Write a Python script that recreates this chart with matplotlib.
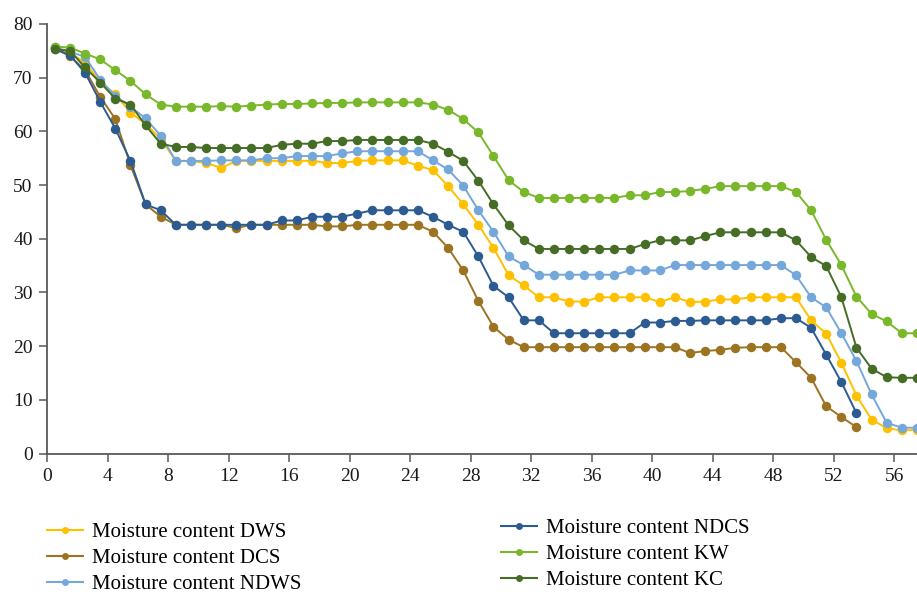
import numpy as np
import matplotlib
matplotlib.use("Agg")
import matplotlib.pyplot as plt
from matplotlib.lines import Line2D

plt.rcParams['font.family'] = ['Liberation Serif', 'DejaVu Serif']

time = np.arange(0.5, 58.0, 1.0)

dws = [75.7, 74.6, 72.8, 69.2, 66.9, 63.5, 61.4, 58.6, 54.5, 54.5, 54.1, 53.2,
       54.5, 54.5, 54.5, 54.5, 54.5, 54.5, 54.1, 54.1, 54.5, 54.6, 54.6, 54.6,
       53.6, 52.8, 49.8, 46.4, 42.6, 38.3, 33.2, 31.3, 29.1, 29.1, 28.3, 28.3,
       29.1, 29.1, 29.1, 29.1, 28.2, 29.1, 28.2, 28.3, 28.7, 28.7, 29.1, 29.1,
       29.1, 29.1, 24.8, 22.3, 16.9, 10.8, 6.3, 4.7, 4.3, 4.4]
dcs = [75.5, 74.0, 71.4, 66.4, 62.3, 53.7, 46.4, 44.1, 42.6, 42.6, 42.6, 42.6,
       42.0, 42.6, 42.6, 42.6, 42.6, 42.6, 42.3, 42.3, 42.6, 42.6, 42.6, 42.6,
       42.6, 41.3, 38.3, 34.1, 28.4, 23.6, 21.2, 19.8, 19.8, 19.8, 19.8, 19.8,
       19.8, 19.8, 19.8, 19.8, 19.8, 19.8, 18.7, 19.1, 19.3, 19.7, 19.8, 19.8,
       19.8, 17.0, 14.1, 8.8, 6.8, 4.9]
ndws = [75.7, 74.8, 73.9, 69.6, 66.6, 64.6, 62.4, 59.2, 54.5, 54.5, 54.5, 54.6,
        54.6, 54.6, 55.0, 55.0, 55.4, 55.4, 55.4, 55.9, 56.3, 56.3, 56.3, 56.3,
        56.3, 54.6, 52.9, 49.9, 45.3, 41.3, 36.7, 35.1, 33.3, 33.3, 33.3, 33.3,
        33.3, 33.3, 34.1, 34.1, 34.1, 35.1, 35.1, 35.1, 35.1, 35.1, 35.1, 35.1,
        35.1, 33.2, 29.1, 27.2, 22.4, 17.2, 11.0, 5.7, 4.8, 4.8]
ndcs = [75.3, 74.2, 70.9, 65.5, 60.5, 54.5, 46.4, 45.3, 42.6, 42.6, 42.6, 42.6,
        42.6, 42.6, 42.6, 43.4, 43.4, 44.1, 44.1, 44.1, 44.7, 45.3, 45.3, 45.3,
        45.3, 44.1, 42.6, 41.3, 36.7, 31.2, 29.1, 24.8, 24.8, 22.4, 22.4, 22.4,
        22.4, 22.4, 22.4, 24.4, 24.4, 24.7, 24.7, 24.8, 24.8, 24.8, 24.8, 24.8,
        25.2, 25.2, 23.4, 18.4, 13.3, 7.5]
kw = [75.8, 75.6, 74.5, 73.4, 71.4, 69.4, 66.9, 65.0, 64.6, 64.6, 64.6, 64.7,
      64.6, 64.8, 65.0, 65.1, 65.1, 65.2, 65.3, 65.3, 65.4, 65.4, 65.4, 65.4,
      65.4, 65.0, 64.0, 62.3, 59.8, 55.4, 50.9, 48.7, 47.6, 47.6, 47.6, 47.6,
      47.6, 47.6, 48.1, 48.1, 48.7, 48.7, 48.9, 49.3, 49.8, 49.8, 49.8, 49.8,
      49.8, 48.7, 45.3, 39.8, 35.1, 29.2, 26.0, 24.6, 22.4, 22.4]
kc = [75.3, 75.0, 71.9, 69.1, 66.1, 65.0, 61.1, 57.7, 57.1, 57.1, 56.9, 56.9,
      56.9, 56.9, 56.9, 57.5, 57.7, 57.7, 58.2, 58.2, 58.4, 58.4, 58.4, 58.4,
      58.4, 57.7, 56.2, 54.5, 50.8, 46.4, 42.5, 39.7, 38.1, 38.1, 38.1, 38.1,
      38.1, 38.1, 38.1, 39.0, 39.7, 39.7, 39.7, 40.5, 41.2, 41.2, 41.2, 41.2,
      41.2, 39.7, 36.6, 34.9, 29.1, 19.7, 15.8, 14.2, 14.1, 14.1]

labels = ["Moisture content DWS", "Moisture content DCS", "Moisture content NDWS",
          "Moisture content NDCS", "Moisture content KW", "Moisture content KC"]
series = [dws, dcs, ndws, ndcs, kw, kc]
colors = ["#FFC000", "#9C7320", "#74A7DA", "#2C5B91", "#79B82A", "#466D26"]
xticks = [0, 4, 8, 12, 16, 20, 24, 28, 32, 36, 40, 44, 48, 52, 56]
yticks = [0, 10, 20, 30, 40, 50, 60, 70, 80]

fig = plt.figure(figsize=(9.17, 5.94), dpi=100)
ax = fig.add_axes([47.3 / 917, (594 - 453.5) / 594, (917 - 47.3) / 917, (453.5 - 24) / 594])

handles = []
for vals, col, lab in zip(series, colors, labels):
    n = len(vals)
    ax.plot(time[:n], vals, color=col, lw=1.4, marker='o', ms=6.8,
            markeredgewidth=0, label=lab)
    handles.append(Line2D([0], [0], color=col, lw=1.5, marker='o', ms=5,
                          markeredgewidth=0))

ax.set_xlim(0, 57.5)
ax.set_ylim(0, 80)
ax.set_xticks(xticks)
ax.set_yticks(yticks)
for s in ['top', 'right']:
    ax.spines[s].set_visible(False)
for s in ['left', 'bottom']:
    ax.spines[s].set_color('#595959')
    ax.spines[s].set_linewidth(1.3)
ax.tick_params(axis='both', direction='out', length=5.5, width=1.1, color='#595959',
               labelsize=14, labelcolor='#1a1a1a', pad=5)

common = dict(loc='center left', frameon=False, fontsize=15, handlelength=1.72,
              handletextpad=0.43, labelspacing=0.3, borderpad=0, borderaxespad=0)
fig.legend(handles[:3], labels[:3], bbox_to_anchor=(47 / 917, (594 - 558.5) / 594), **common)
fig.legend(handles[3:], labels[3:], bbox_to_anchor=(501 / 917, (594 - 554.5) / 594), **common)

fig.savefig("out.png", dpi=100)
